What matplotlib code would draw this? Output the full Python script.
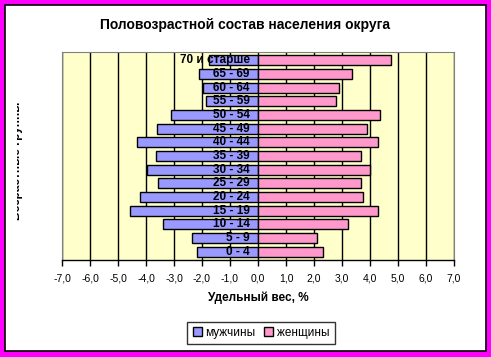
import matplotlib
matplotlib.use("Agg")
import matplotlib.pyplot as plt
import numpy as np
from matplotlib.patches import Rectangle
from matplotlib.transforms import Bbox

plt.rcParams["font.family"] = ["Liberation Sans", "DejaVu Sans"]

# возрастные группы снизу вверх
groups = ["0 - 4", "5 - 9", "10 - 14", "15 - 19", "20 - 24", "25 - 29", "30 - 34",
          "35 - 39", "40 - 44", "45 - 49", "50 - 54", "55 - 59", "60 - 64",
          "65 - 69", "70 и старше"]
men = [2.18, 2.36, 3.39, 4.57, 4.21, 3.57, 3.95, 3.64, 4.32, 3.61, 3.11, 1.86, 1.96, 2.11, 1.75]
women = [2.32, 2.11, 3.21, 4.29, 3.76, 3.68, 4.0, 3.69, 4.29, 3.91, 4.36, 2.80, 2.89, 3.37, 4.76]
xticks = np.arange(-7, 8)

W, H = 491, 357
fig = plt.figure(figsize=(W / 100, H / 100), dpi=100, facecolor="#FF00FF")
fig.patches.append(Rectangle((5 / W, 6 / H), 481 / W, 346 / H, transform=fig.transFigure,
                             facecolor="white", edgecolor="black", linewidth=1.2, zorder=-5))

ax = fig.add_axes([62 / W, 97 / H, 392 / W, 208 / H])
ax.set_zorder(2)
ax.set_facecolor("#FFFFCC")

y = np.arange(len(groups))
ax.barh(y, [-v for v in men], height=0.72, color="#9999FF", edgecolor="black",
        linewidth=1, zorder=2, label="мужчины")
ax.barh(y, women, height=0.72, color="#FF99CC", edgecolor="black",
        linewidth=1, zorder=2, label="женщины")

for yi, g in zip(y, groups):
    ax.text(-0.3, yi, g, ha="right", va="center", fontsize=8.5, fontweight="bold", zorder=4)

ax.set_xlim(-7, 7)
ax.set_ylim(-0.6, len(groups) - 0.4)
ax.set_xticks(xticks)
ax.set_xticklabels([f"{v:.1f}".replace(".", ",") for v in xticks], fontsize=7.5)
ax.set_yticks([])
ax.tick_params(axis="x", length=4, width=1, direction="out", pad=6)
ax.grid(axis="x", color="black", linewidth=1, zorder=1)
ax.set_axisbelow(True)
for s in ["top", "left", "right"]:
    ax.spines[s].set_color("#808080")
ax.spines["bottom"].set_linewidth(1)

fig.text(0.5, 1 - 25 / H, "Половозрастной состав населения округа",
         ha="center", va="center", fontsize=10, fontweight="bold")
fig.text(258 / W, 1 - 297.5 / H, "Удельный вес, %", ha="center", va="center",
         fontsize=8.5, fontweight="bold")

ylab = fig.text(17 / W, 1 - 161 / H, "Возрастные группы", rotation=90, ha="center",
                va="center", fontsize=8.5, fontweight="bold")
ylab.set_clip_box(Bbox.from_extents(17, 0, W, H))
ylab.set_clip_on(True)

leg = fig.legend(loc="center", bbox_to_anchor=(261 / W, 1 - 333 / H), ncol=2, fontsize=8.5,
                 frameon=True, fancybox=False, edgecolor="black", handlelength=0.8,
                 handleheight=0.8, handletextpad=0.3, columnspacing=0.7, borderpad=0.45)
leg.get_frame().set_linewidth(1)

fig.savefig("out.png", dpi=100, facecolor=fig.get_facecolor())
